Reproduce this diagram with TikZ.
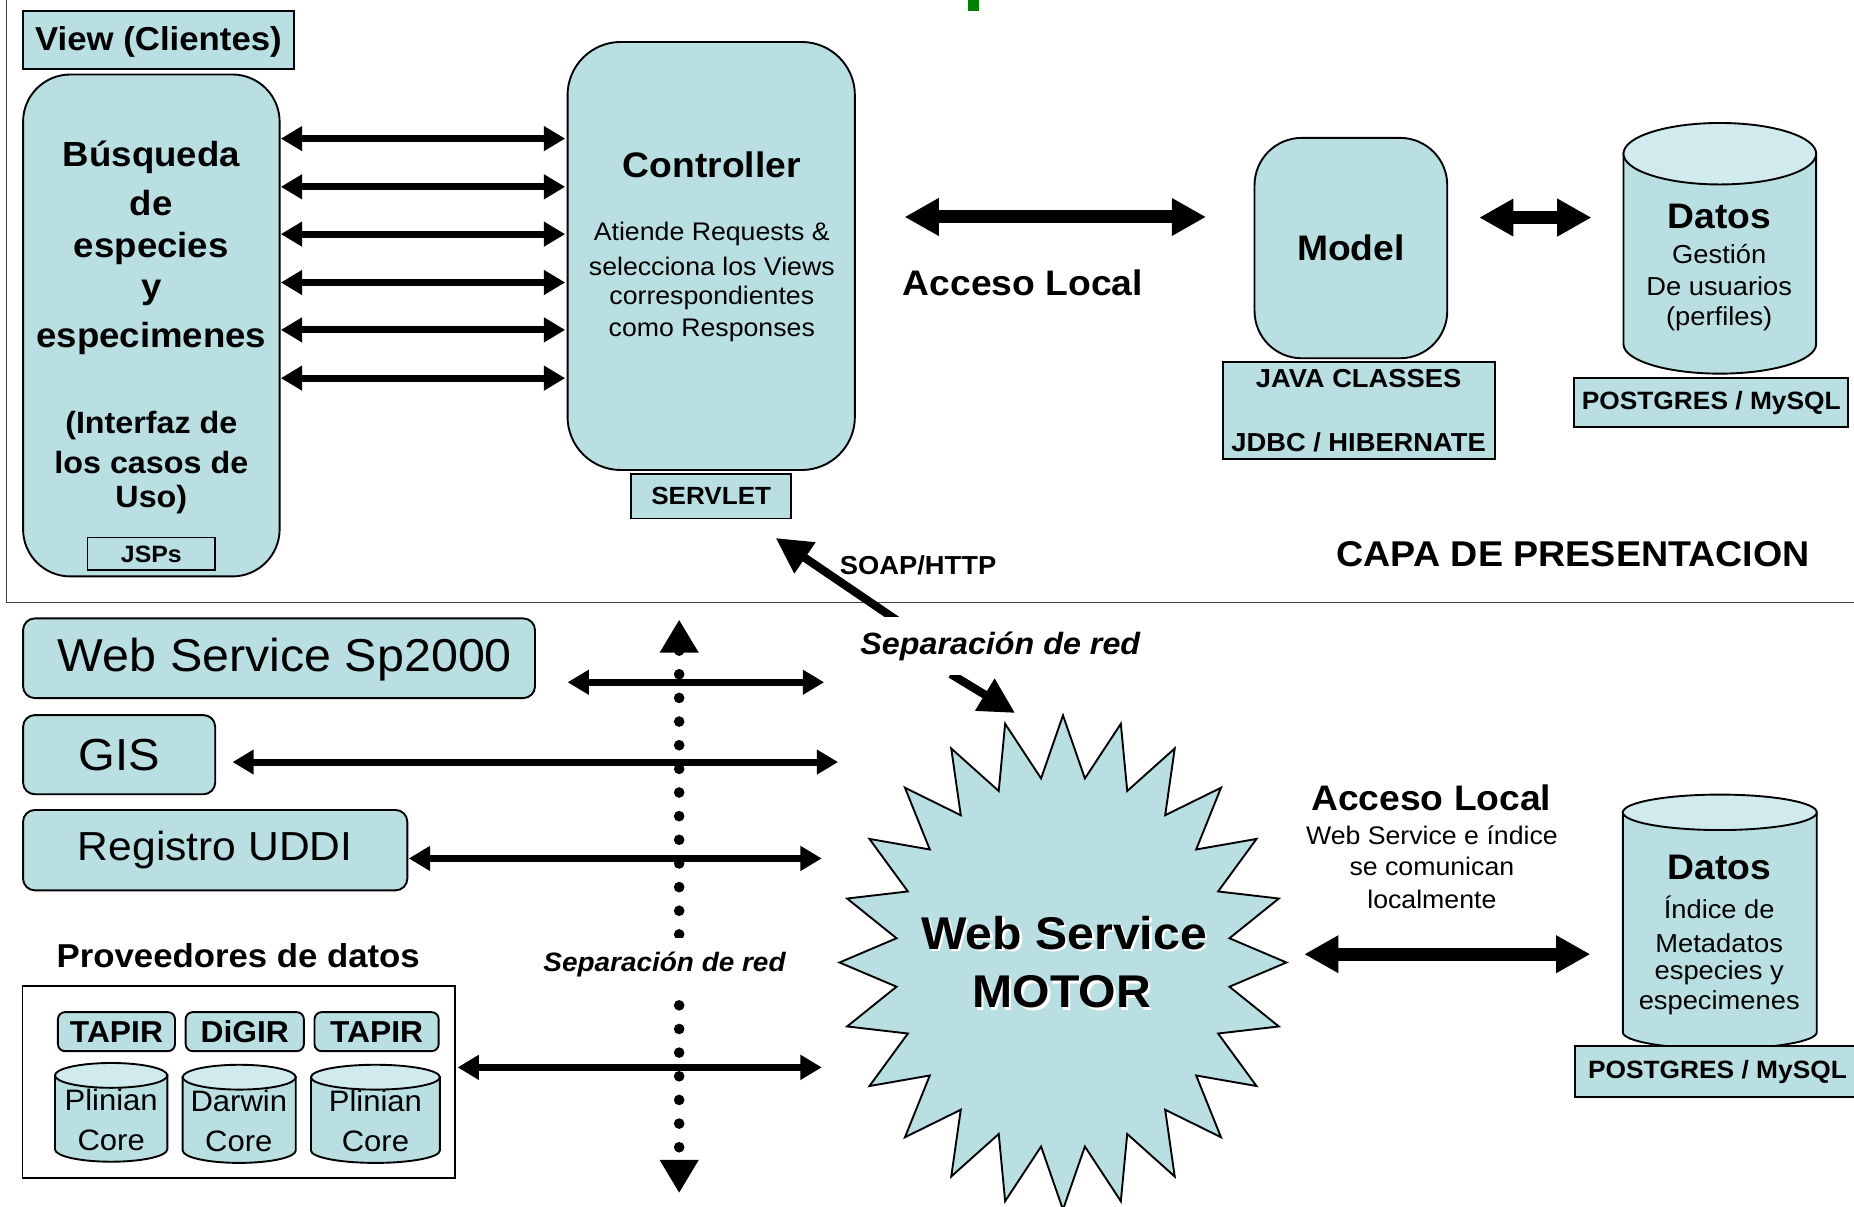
\documentclass[tikz,border=0pt]{standalone}
\usepackage{fontspec}
\setmainfont[FakeStretch=1.05]{Liberation Sans}
\usetikzlibrary{arrows.meta}
\definecolor{tealf}{RGB}{185,223,227}
\definecolor{tealt}{RGB}{208,234,237}
\definecolor{markg}{RGB}{0,128,0}
\newcommand\fz[1]{\fontsize{#1}{#1}\selectfont}
\tikzset{
  box/.style={draw=black, line width=1.6pt, fill=tealf},
  lbl/.style={inner sep=0pt, font=\fz{#1}},
  lblb/.style={inner sep=0pt, font=\fz{#1}\bfseries},
  lbli/.style={inner sep=0pt, font=\fz{#1}\bfseries\itshape},
  dblA/.style={line width=6pt, {Triangle[length=18pt,width=20pt]}-{Triangle[length=18pt,width=20pt]}},
  dblB/.style={line width=11pt, {Triangle[length=29pt,width=30pt]}-{Triangle[length=29pt,width=30pt]}},
  sglC/.style={line width=7pt, -{Triangle[length=30pt,width=30pt]}},
}
% cx, rx, ytop, rytop, ybot, rybot
\newcommand\dbcyl[6]{%
  \draw[box] ({#1-#2},#3) -- ({#1-#2},#5) arc[start angle=180,end angle=0,x radius=#2,y radius=#6] -- ({#1+#2},#3) -- cycle;
  \draw[box, fill=tealt] (#1,#3) ellipse[x radius=#2, y radius=#4];
}
\begin{document}
\begin{tikzpicture}[x=1pt,y=-1pt]
\clip (0,0) rectangle (1568,1020);
\fill[white] (0,0) rectangle (1568,1020);
\fill[markg] (819,0) rectangle (828,9);
% frame of presentation layer
\draw[line width=1.5pt, black!75] (5.5,-5) -- (5.5,509.5) -- (1575,509.5);

% ---------- presentation layer ----------
\node[box, inner sep=0pt, minimum width=229.5pt, minimum height=48.5pt] (view) at (134.25,33.75) {};
\node[lblb=28] (viewt) at (134,35.5) {View (Clientes)};
\node[box, rounded corners=40pt, minimum width=217pt, minimum height=424.5pt] (busq) at (128,275.25) {};
\foreach \t/\yy [count=\i] in {Búsqueda/133, de/171.5, especies/210.5, y/248, especimenes/286}
  \node[lblb=29.5] (bq\i) at (128,\yy) {\t};
\node[lblb=26] (if1) at (128,359.5) {(Interfaz de};
\node[lblb=26] (if2) at (128,391) {los casos de};
\node[lblb=26] (if3) at (128,422.5) {Uso)};
\node[box, line width=1.3pt, minimum width=108pt, minimum height=27.5pt, lblb=20] (jsp) at (128,468.5) {JSPs};

\node[box, rounded corners=45pt, minimum width=243pt, minimum height=362pt] (ctrl) at (601.5,216.5) {};
\node[lblb=30] (ctrlt) at (602,139) {Controller};
\foreach \t/\yy [count=\i] in {Atiende Requests \&/198, selecciona los Views/225, correspondientes/252, como Responses/279}
  \node[lbl=21.5] (ct\i) at (602,\yy) {\t};
\node[box, minimum width=135pt, minimum height=37.5pt, lblb=21] (srv) at (601.5,419.75) {SERVLET};

\foreach \yy [count=\i] in {117.2,158,198,238.9,279,319.8} {
  \coordinate (vl\i) at (237.5,\yy);
  \coordinate (vr\i) at (478,\yy);
  \draw[dblA] (vl\i) -- (vr\i);
}

\coordinate (al1) at (765,183.5);
\coordinate (al2) at (1020,183.5);
\draw[dblB] (al1) -- (al2);
\node[lblb=30] (acc1) at (865,239.5) {Acceso Local};

\node[box, rounded corners=40pt, minimum width=163pt, minimum height=186.4pt, lblb=30] (model) at (1142.5,209.8) {Model};
\node[box, minimum width=230.5pt, minimum height=82pt] (java) at (1149.25,347) {};
\node[lblb=22] (java1) at (1149,320.5) {JAVA CLASSES};
\node[lblb=22] (java2) at (1149,374) {JDBC / HIBERNATE};

\coordinate (md1) at (1251,184);
\coordinate (md2) at (1346,184);
\draw[dblB] (md1) -- (md2);

\dbcyl{1454.5}{81.5}{130}{26}{291}{25}
\node[lblb=30] (dat1) at (1454,183) {Datos};
\node[lbl=22] (dat1a) at (1454,215) {Gestión};
\node[lbl=22] (dat1b) at (1454,242) {De usuarios};
\node[lbl=22] (dat1c) at (1454,270) {(perfiles)};
\node[box, minimum width=231.5pt, minimum height=41pt, lblb=21.2] (pg1) at (1447.25,340.5) {POSTGRES / MySQL};

\node[lblb=30.3] (capa) at (1330.5,469) {CAPA DE PRESENTACION};

% SOAP arrow and network separation
\coordinate (soapA) at (762,527);
\coordinate (soapB) at (656,455);
\draw[sglC] (soapA) -- (soapB);
\node[lblb=22] (soap) at (776.5,478) {SOAP/HTTP};
\coordinate (s2a) at (804,570);
\coordinate (s2b) at (858.5,603);
\draw[sglC] (s2a) -- (s2b);
\node[fill=white, inner sep=0pt, minimum width=262pt, minimum height=49pt, lbli=26] (sep1) at (846,546.5) {Separación de red};

% ---------- lower part ----------
\coordinate (dt) at (574.4,524);
\coordinate (db) at (574.4,1009);
\draw[line width=9pt, line cap=round, dash pattern=on 0pt off 20pt, {Triangle[length=28pt,width=31pt]}-{Triangle[length=28pt,width=31pt]}] (dt) -- (db);

\node[box, rounded corners=10pt, minimum width=433pt, minimum height=67.4pt] (sp) at (236,556.7) {};
\node[lbl=39] (spt) at (241,558) {Web Service Sp2000};
\node[box, rounded corners=10pt, minimum width=162.5pt, minimum height=67pt, lbl=38] (gis) at (100.75,638.25) {GIS};
\node[box, rounded corners=10pt, minimum width=325pt, minimum height=68pt, lbl=34.3] (uddi) at (182,719) {Registro UDDI};

\coordinate (spa) at (480,577);     \coordinate (spb) at (697,577);
\coordinate (gisa) at (196.6,644.5); \coordinate (gisb) at (708.8,644.5);
\coordinate (uda) at (345.7,726);   \coordinate (udb) at (695,726);
\coordinate (pva) at (387,902.7);   \coordinate (pvb) at (695,902.7);
\draw[dblA] (spa) -- (spb);
\draw[dblA] (gisa) -- (gisb);
\draw[dblA] (uda) -- (udb);
\draw[dblA] (pva) -- (pvb);

\node[lblb=28] (prov) at (201.5,808) {Proveedores de datos};
\node[draw=black, line width=1.6pt, fill=white, minimum width=366pt, minimum height=162pt] (provbox) at (202,915) {};
\node[box, rounded corners=6pt, minimum width=99pt, minimum height=33pt, lblb=25.6] (tap1) at (98.5,872.5) {TAPIR};
\node[box, rounded corners=6pt, minimum width=100pt, minimum height=33pt, lblb=25.6] (dig) at (207,872.5) {DiGIR};
\node[box, rounded corners=6pt, minimum width=105pt, minimum height=33pt, lblb=25.6] (tap2) at (318.5,872.5) {TAPIR};
\dbcyl{94}{47.5}{909.5}{10.5}{972}{10.5}
\dbcyl{202.3}{47.8}{911}{10.5}{973}{10.5}
\dbcyl{317.5}{54.5}{911}{10.5}{973}{10.5}
\node[lbl=25] (c1a) at (94,930) {Plinian};
\node[lbl=25] (c1b) at (94,964) {Core};
\node[lbl=25] (c2a) at (202,931) {Darwin};
\node[lbl=25] (c2b) at (202,965) {Core};
\node[lbl=25] (c3a) at (317.5,931) {Plinian};
\node[lbl=25] (c3b) at (317.5,965) {Core};

\node[fill=white, inner sep=0pt, minimum width=245.5pt, minimum height=43pt] (sep2) at (574.25,814.5) {};
\node[lbli=22.5] (sep2t) at (562,816) {Separación de red};

% star
\draw[box] plot[samples at={0,...,47}, variable=\k]
  ({899+ifthenelse(mod(\k,2)==0,189,142)*sin(7.5*\k)}, {814-ifthenelse(mod(\k,2)==0,209,157)*cos(7.5*\k)}) -- cycle;
\node[lblb=38.8, text=white] (ws1s) at (902,791) {Web Service};
\node[lblb=38.8, text=white] (ws2s) at (900,841) {MOTOR};
\node[lblb=38.8] (ws1) at (900,789) {Web Service};
\node[lblb=38.8] (ws2) at (898,839) {MOTOR};

\node[lblb=30] (acc2) at (1210.5,675) {Acceso Local};
\node[lbl=21.5] (acc2a) at (1211,706.5) {Web Service e índice};
\node[lbl=21.5] (acc2b) at (1211,733) {se comunican};
\node[lbl=21.5] (acc2c) at (1211,761) {localmente};
\coordinate (ala) at (1103,807);
\coordinate (alb) at (1345,807);
\draw[dblB] (ala) -- (alb);

\dbcyl{1454.5}{82}{687}{15}{873}{14}
\node[lblb=30] (dat2) at (1454,734) {Datos};
\node[lbl=22] (dat2a) at (1454,767) {Índice de};
\node[lbl=22] (dat2b) at (1454,797.5) {Metadatos};
\node[lbl=22] (dat2c) at (1454,823) {especies y};
\node[lbl=22] (dat2d) at (1454,848) {especimenes};
\node[box, minimum width=243pt, minimum height=43pt] (pg2) at (1453.5,906.5) {};
\node[lblb=21.2] (pg2t) at (1452.5,906.5) {POSTGRES / MySQL};
\end{tikzpicture}
\end{document}
